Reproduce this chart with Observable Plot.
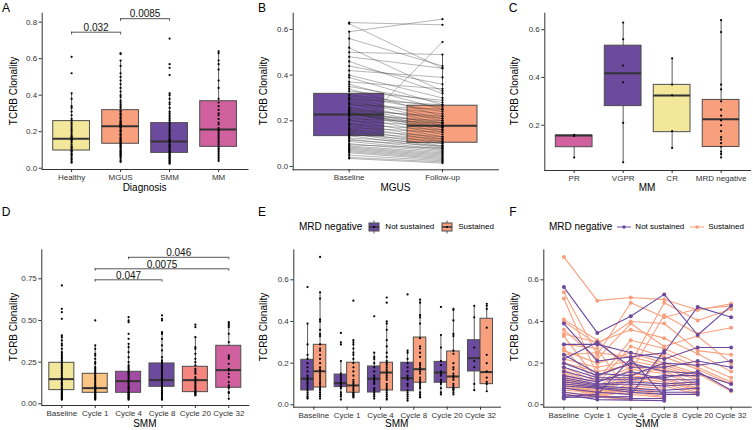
<!DOCTYPE html>
<html><head><meta charset="utf-8">
<script src="https://cdn.jsdelivr.net/npm/d3@7"></script>
<script src="https://cdn.jsdelivr.net/npm/@observablehq/plot@0.6"></script>
<style>
body{margin:0;background:#fff;font-family:"Liberation Sans",Arial,sans-serif;}
#root{position:relative;width:753px;height:430px;overflow:hidden;background:#fff;}
.panel{position:absolute;}
.t{position:absolute;white-space:nowrap;line-height:1;color:#000;}
.lg{position:absolute;display:flex;align-items:center;white-space:nowrap;font-size:8px;color:#000;line-height:1;}
.lg svg{display:block;}
</style>
</head><body><div id="root"></div>
<script>
// ---------------- DATA ----------------
const diagCats = ["Healthy","MGUS","SMM","MM"];
const healthyVals = [0.61,0.52,0.41,0.38,0.34,0.33,0.31,0.29,0.27,0.26,0.25,0.24,0.23,0.22,0.21,0.2,0.19,0.18,0.175,0.17,0.165,0.16,0.155,0.15,0.14,0.13,0.12,0.115,0.11,0.1,0.095,0.09,0.08,0.075,0.07,0.06,0.05,0.045,0.035,0.03];
const mgusVals = [0.63,0.625,0.59,0.56,0.52,0.50,0.48,0.46,0.44,0.42,0.40,0.39,0.37,0.36,0.35,0.34,0.33,
  0.315,0.31,0.30,0.295,0.29,0.28,0.275,0.27,0.26,0.255,0.25,0.245,0.24,0.24,0.235,0.23,0.23,
  0.225,0.22,0.21,0.205,0.20,0.19,0.185,0.18,0.17,0.165,0.16,0.155,0.15,0.145,0.14,0.135,
  0.13,0.125,0.12,0.115,0.11,0.10,0.095,0.09,0.085,0.08,0.075,0.07,0.065,0.06,0.05,0.04,0.035];
const smmVals = [0.71,0.57,0.55,0.51,0.41,0.40,0.38,0.36,0.35,0.33,0.31,0.30,0.29,0.28,0.27,0.26,0.25,0.24,0.23,0.22,0.21,0.20,0.19,0.18,0.17,0.16,0.155,0.15,0.145,0.14,0.13,0.125,0.12,0.115,0.11,0.10,0.095,0.09,0.085,0.08,0.075,0.07,0.065,0.06,0.055,0.05,0.045,0.04,0.035,0.03,0.025];
const mmVals = [0.64,0.63,0.59,0.57,0.54,0.48,0.44,0.38,0.36,0.34,0.32,0.30,0.29,0.27,0.25,0.24,0.22,0.21,0.20,0.19,0.18,0.17,0.16,0.15,0.14,0.13,0.12,0.11,0.10,0.09,0.08,0.07,0.06,0.05,0.04];
const diagQ1 = [0.097,0.134,0.084,0.117];
const diagMed = [0.161,0.230,0.146,0.212];
const diagQ3 = [0.258,0.318,0.247,0.367];
const diagLo = [0.03,0.035,0.025,0.04];
const diagHi = [0.41,0.59,0.41,0.64];
const diagColors = ["#F3E79B","#F8A07E","#6C4A9E","#D1609E"];
const diagSigPairs = [["Healthy","MGUS"],["MGUS","SMM"]];
const diagSigY = [0.745,0.819];
const diagSigP = ["0.032","0.0085"];

const mgusTimeCats = ["Baseline","Follow-up"];
const mgusFollowVals = [0.62,0.43,0.645,0.44,0.33,0.49,0.43,0.32,0.36,0.39,0.30,0.27,0.34,0.25,0.28,0.22,0.29,
  0.26,0.24,0.21,0.27,0.20,0.23,0.19,0.25,0.18,0.21,0.17,0.22,0.16,0.19,0.15,0.18,0.17,
  0.20,0.14,0.19,0.13,0.175,0.12,0.16,0.11,0.15,0.10,0.13,0.09,0.12,0.085,0.11,0.08,
  0.545,0.10,0.075,0.09,0.07,0.065,0.08,0.06,0.055,0.05,0.045,0.04,0.035,0.03,0.025,0.02,0.015];
const mgusQ1 = [0.133,0.104];
const mgusMed = [0.228,0.178];
const mgusQ3 = [0.318,0.266];
const mgusLo = [0.035,0.015];
const mgusHi = [0.59,0.49];
const mgusColors = ["#6C4A9E","#F8A07E"];

const respCats = ["PR","VGPR","CR","MRD negative"];
const prVals = [0.16,0.155,0.065];
const vgprVals = [0.63,0.56,0.45,0.38,0.21,0.045];
const crVals = [0.48,0.37,0.325,0.175,0.105];
const mrdVals = [0.64,0.59,0.37,0.35,0.30,0.265,0.24,0.22,0.20,0.175,0.15,0.14,0.125,0.11,0.09,0.08,0.065];
const respQ1 = [0.108,0.28,0.171,0.109];
const respMed = [0.157,0.418,0.324,0.225];
const respQ3 = [0.157,0.533,0.369,0.306];
const respLo = [0.065,0.045,0.105,0.065];
const respHi = [0.16,0.63,0.48,0.64];
const respColors = ["#D1609E","#6C4A9E","#F3E79B","#F8A07E"];

const smmCats = ["Baseline","Cycle 1","Cycle 4","Cycle 8","Cycle 20","Cycle 32"];
const cycle1Vals = [0.50,0.35,0.33,0.30,0.29,0.27,0.25,0.24,0.22,0.21,0.2,0.19,0.18,0.17,0.16,0.15,0.14,0.13,0.12,0.11,0.105,0.1,0.095,0.09,0.085,0.08,0.075,0.07,0.065,0.06,0.055,0.05,0.045,0.04,0.035,0.03,0.025];
const cycle4Vals = [0.52,0.50,0.49,0.42,0.39,0.36,0.34,0.31,0.28,0.25,0.23,0.22,0.21,0.2,0.19,0.185,0.18,0.17,0.16,0.15,0.14,0.13,0.12,0.11,0.1,0.095,0.09,0.08,0.07,0.065,0.06,0.055,0.05,0.045,0.04,0.035,0.03,0.025];
const cycle8Vals = [0.53,0.51,0.50,0.43,0.42,0.39,0.35,0.32,0.28,0.26,0.25,0.24,0.23,0.22,0.21,0.2,0.19,0.18,0.17,0.16,0.15,0.14,0.13,0.12,0.11,0.105,0.1,0.09,0.08,0.07,0.06,0.05,0.04,0.03,0.025];
const cycle20Vals = [0.475,0.46,0.40,0.34,0.33,0.30,0.27,0.25,0.23,0.21,0.2,0.19,0.18,0.16,0.15,0.14,0.13,0.12,0.11,0.1,0.09,0.08,0.075,0.07,0.065,0.06,0.055,0.05];
const cycle32Vals = [0.49,0.48,0.47,0.46,0.42,0.37,0.29,0.28,0.27,0.24,0.21,0.2,0.18,0.16,0.13,0.11,0.1,0.095,0.07,0.065,0.03];
const smmQ1 = [0.082,0.066,0.066,0.102,0.07,0.096];
const smmMed = [0.148,0.094,0.136,0.142,0.142,0.202];
const smmQ3 = [0.246,0.18,0.192,0.242,0.222,0.348];
const smmLo = [0.025,0.025,0.025,0.025,0.05,0.03];
const smmHi = [0.41,0.35,0.36,0.43,0.40,0.49];
const smmColors = ["#F3E79B","#FAC484","#A24BA2","#6C4A9E","#F4857F","#D1609E"];
const smmSigPairs = [["Cycle 1","Cycle 8"],["Cycle 1","Cycle 32"],["Cycle 4","Cycle 32"]];
const smmSigY = [0.744,0.81,0.879];
const smmSigP = ["0.047","0.0075","0.046"];

const mrdGroups = ["Not sustained","Sustained"];
const mrdColors = ["#6C4A9E","#F8A07E"];
// per patient: Baseline, Cycle 1, Cycle 4, Cycle 8, Cycle 20, Cycle 32 (null = no sample)
const notSustainedPatients = [
  [0.565,0.345,0.425,0.53,0.335,0.475],
  [0.39,0.21,0.23,0.25,0.47,0.42],
  [0.29,0.29,0.25,0.22,0.275,0.275],
  [0.24,0.15,0.14,0.20,0.19,0.21],
  [0.22,0.30,0.18,0.18,0.21,0.18],
  [0.20,0.14,0.20,0.16,0.15,0.10],
  [0.18,0.13,0.13,0.13,0.16,0.07],
  [0.16,0.12,0.12,0.14,0.14,null],
  [0.14,0.11,0.16,0.12,0.12,null],
  [0.13,0.10,0.11,0.10,0.11,null],
  [0.12,0.095,0.10,0.09,0.10,null],
  [0.11,0.09,0.08,0.07,0.08,null],
  [0.10,0.085,0.07,0.06,0.06,null],
  [0.09,0.08,0.06,0.05,0.05,null],
  [0.08,0.06,0.05,0.26,null,null],
  [0.04,0.05,0.22,0.04,null,null],
  [0.06,0.04,0.03,0.03,null,null],
  [0.05,0.025,null,0.02,null,null],
  [0.07,null,null,null,null,null],
  [0.035,null,0.04,null,null,null],
  [0.03,null,null,null,null,null]
];
const sustainedPatients = [
  [0.71,0.50,0.515,0.505,0.455,0.485],
  [0.54,0.24,0.49,0.42,0.46,0.475],
  [0.51,0.14,0.20,0.49,0.405,0.46],
  [0.41,0.31,0.16,0.43,0.34,0.37],
  [0.40,0.29,0.40,0.39,0.26,0.24],
  [0.36,0.22,0.39,0.28,0.33,0.20],
  [0.34,0.30,0.36,0.32,0.245,0.16],
  [0.33,0.12,0.31,0.27,0.20,0.13],
  [0.29,0.27,0.04,0.25,0.18,0.11],
  [0.27,0.10,0.28,0.23,0.17,0.10],
  [0.26,0.20,0.25,0.20,0.15,0.065],
  [0.24,0.25,0.23,0.19,0.14,null],
  [0.22,0.18,0.21,0.18,0.13,null],
  [0.20,0.16,0.19,0.17,0.12,null],
  [0.18,0.11,0.18,0.16,0.10,null],
  [0.17,0.09,0.17,0.15,0.09,null],
  [0.16,0.08,0.15,0.13,0.08,null],
  [0.15,0.07,0.14,0.12,0.075,null],
  [0.14,0.06,0.13,0.11,0.07,null],
  [0.13,0.055,0.12,0.10,0.06,null],
  [0.12,0.05,0.10,0.09,0.05,null],
  [0.11,0.045,0.09,0.08,null,null],
  [0.10,0.04,0.08,0.06,null,null],
  [0.09,0.035,0.07,0.05,null,null],
  [0.08,null,0.06,0.04,null,null],
  [0.07,null,0.05,0.035,null,null],
  [0.06,null,0.03,null,null,null],
  [0.05,null,0.025,null,null,null],
  [0.04,null,null,null,null,null],
  [0.03,null,null,null,null,null]
];
const nsQ1 = [0.069,0.085,0.059,0.065,0.106,0.16];
const nsMed = [0.125,0.104,0.125,0.128,0.155,0.224];
const nsQ3 = [0.216,0.145,0.184,0.202,0.206,0.31];
const nsLo = [0.03,0.025,0.03,0.02,0.05,0.07];
const nsHi = [0.39,0.21,0.25,0.26,0.335,0.475];
const sQ1 = [0.083,0.058,0.069,0.106,0.08,0.099];
const sMed = [0.161,0.093,0.155,0.171,0.136,0.157];
const sQ3 = [0.288,0.202,0.202,0.323,0.256,0.413];
const sLo = [0.03,0.035,0.025,0.035,0.05,0.065];
const sHi = [0.54,0.31,0.40,0.505,0.46,0.485];

// ---------------- HELPERS ----------------
const FONT = "Liberation Sans, Arial, sans-serif";
const root = document.getElementById("root");
const BOXW = 0.75;

function place(el, left, top) {
  el.classList.add("panel");
  el.style.left = left + "px";
  el.style.top = top + "px";
  root.appendChild(el);
}
function addText(str, x, y, size, opts = {}) {
  const d = document.createElement("div");
  d.className = "t";
  d.textContent = str;
  d.style.fontSize = size + "px";
  d.style.left = x + "px";
  d.style.top = y + "px";
  d.style.transform = opts.rotate ? `translate(-50%,-50%) rotate(${opts.rotate}deg)` : "translate(-50%,-50%)";
  root.appendChild(d);
}
function boxesFrom(cats, q1, med, q3, lo, hi, keys, offsets, width) {
  return cats.map((c, i) => ({x: i + (offsets ? offsets : 0), w: width, key: keys ? keys : c,
    q1: q1[i], med: med[i], q3: q3[i], lo: lo[i], hi: hi[i]}));
}
function pointsFrom(cats, lists, offset = 0) {
  return lists.flatMap((vals, i) => vals.map(v => ({x: i + offset, v})));
}
function bracketMarks(cats, pairs, ys, ps, tip) {
  const br = pairs.map((p, k) => ({a: cats.indexOf(p[0]), b: cats.indexOf(p[1]), y: ys[k], label: ps[k]}));
  const st = {stroke: "#444", strokeWidth: 0.9};
  return [
    Plot.ruleY(br, {x1: "a", x2: "b", y: "y", ...st}),
    Plot.ruleX(br, {x: "a", y1: d => d.y - tip, y2: "y", ...st}),
    Plot.ruleX(br, {x: "b", y1: d => d.y - tip, y2: "y", ...st}),
    Plot.text(br, {x: d => (d.a + d.b) / 2, y: "y", text: "label", dy: -1.2, lineAnchor: "bottom",
      fontSize: 10, fill: "#111", fontFamily: FONT})
  ];
}
function boxMarks(boxes) {
  return [
    Plot.ruleX(boxes, {x: "x", y1: "lo", y2: "hi", stroke: "#333", strokeWidth: 0.8}),
    Plot.rect(boxes, {x1: d => d.x - d.w / 2, x2: d => d.x + d.w / 2, y1: "q1", y2: "q3",
      fill: "key", stroke: "#4d4d4d", strokeWidth: 1}),
    Plot.ruleY(boxes, {x1: d => d.x - d.w / 2, x2: d => d.x + d.w / 2, y: "med", stroke: "#333", strokeWidth: 2})
  ];
}
function basePlot(cfg) {
  const n = cfg.cats.length;
  return Plot.plot({
    width: cfg.width, height: cfg.height,
    marginLeft: cfg.mL, marginRight: cfg.mR, marginTop: cfg.mT, marginBottom: cfg.mB,
    style: {fontFamily: FONT, fontSize: "8px", color: "#333", background: "transparent", overflow: "visible"},
    x: {domain: [-0.6, n - 0.4], ticks: d3.range(n), tickFormat: i => cfg.cats[i], tickSize: 3, tickPadding: 2, line: true, label: null},
    y: {domain: cfg.yDomain, ticks: cfg.yTicks, tickFormat: d3.format(cfg.yFmt), tickSize: 3, tickPadding: 2, line: true, label: null},
    color: {domain: cfg.colorDomain, range: cfg.colorRange},
    marks: cfg.marks
  });
}

// ---------------- PANEL A ----------------
{
  const boxes = boxesFrom(diagCats, diagQ1, diagMed, diagQ3, diagLo, diagHi, null, 0, BOXW);
  const pts = pointsFrom(diagCats, [healthyVals, mgusVals, smmVals, mmVals]);
  const p = basePlot({cats: diagCats, width: 250, height: 200, mL: 41.7, mR: 2.5, mT: 12.7, mB: 31,
    yDomain: [-0.007, 0.849], yTicks: [0, 0.2, 0.4, 0.6, 0.8], yFmt: ".1f",
    colorDomain: diagCats, colorRange: diagColors,
    marks: [...boxMarks(boxes),
      Plot.dot(pts, {x: "x", y: "v", r: 1.1, fill: "#000"}),
      ...bracketMarks(diagCats, diagSigPairs, diagSigY, diagSigP, 0.015)]});
  place(p, 0, 0);
}
// ---------------- PANEL B ----------------
{
  const boxes = boxesFrom(mgusTimeCats, mgusQ1, mgusMed, mgusQ3, mgusLo, mgusHi, null, 0, BOXW);
  const pairs = mgusVals.map((b, k) => ({b, f: mgusFollowVals[k]}));
  const pts = pointsFrom(mgusTimeCats, [mgusVals, mgusFollowVals]);
  const p = basePlot({cats: mgusTimeCats, width: 250, height: 200, mL: 42.7, mR: 2, mT: 12.7, mB: 30.7,
    yDomain: [-0.0144, 0.671], yTicks: [0, 0.2, 0.4, 0.6], yFmt: ".1f",
    colorDomain: mgusTimeCats, colorRange: mgusColors,
    marks: [...boxMarks(boxes),
      Plot.link(pairs, {x1: () => 0, x2: () => 1, y1: "b", y2: "f", stroke: "#333", strokeWidth: 0.6, strokeOpacity: 0.6}),
      Plot.dot(pts, {x: "x", y: "v", r: 1.1, fill: "#000"})]});
  place(p, 250, 0);
}
// ---------------- PANEL C ----------------
{
  const boxes = boxesFrom(respCats, respQ1, respMed, respQ3, respLo, respHi, null, 0, BOXW);
  const pts = pointsFrom(respCats, [prVals, vgprVals, crVals, mrdVals]);
  const p = basePlot({cats: respCats, width: 253, height: 200, mL: 44.3, mR: 3, mT: 12.7, mB: 30,
    yDomain: [0.0105, 0.669], yTicks: [0.2, 0.4, 0.6], yFmt: ".1f",
    colorDomain: respCats, colorRange: respColors,
    marks: [...boxMarks(boxes),
      Plot.dot(pts, {x: "x", y: "v", r: 1.1, fill: "#000"})]});
  place(p, 500, 0);
}
// ---------------- PANEL D ----------------
{
  const boxes = boxesFrom(smmCats, smmQ1, smmMed, smmQ3, smmLo, smmHi, null, 0, BOXW);
  const pts = pointsFrom(smmCats, [smmVals, cycle1Vals, cycle4Vals, cycle8Vals, cycle20Vals, cycle32Vals]);
  const p = basePlot({cats: smmCats, width: 250, height: 230, mL: 41.3, mR: 1.7, mT: 49.3, mB: 25,
    yDomain: [-0.0102, 0.924], yTicks: [0, 0.25, 0.5, 0.75], yFmt: ".2f",
    colorDomain: smmCats, colorRange: smmColors,
    marks: [...boxMarks(boxes),
      Plot.dot(pts, {x: "x", y: "v", r: 1.1, fill: "#000"}),
      ...bracketMarks(smmCats, smmSigPairs, smmSigY, smmSigP, 0.014)]});
  place(p, 0, 200);
}
// ---------------- PANEL E ----------------
function patientPoints(patients, grp, offset, pidBase) {
  return patients.flatMap((row, k) => row.map((v, i) => v == null ? null : {x: i + offset, i, v, grp, pid: pidBase + k}).filter(d => d));
}
{
  const dw = BOXW / 2;
  const boxes = [
    ...boxesFrom(smmCats, nsQ1, nsMed, nsQ3, nsLo, nsHi, mrdGroups[0], -dw / 2, dw),
    ...boxesFrom(smmCats, sQ1, sMed, sQ3, sLo, sHi, mrdGroups[1], dw / 2, dw)
  ];
  const pts = [...patientPoints(notSustainedPatients, mrdGroups[0], -dw / 2, 0),
               ...patientPoints(sustainedPatients, mrdGroups[1], dw / 2, 100)];
  const p = basePlot({cats: smmCats, width: 250, height: 230, mL: 43.3, mR: 0, mT: 49.3, mB: 23.3,
    yDomain: [-0.0115, 0.744], yTicks: [0, 0.2, 0.4, 0.6], yFmt: ".1f",
    colorDomain: mrdGroups, colorRange: mrdColors,
    marks: [...boxMarks(boxes),
      Plot.dot(pts, {x: "x", y: "v", r: 1.1, fill: "#000"})]});
  place(p, 250, 200);
}
// ---------------- PANEL F ----------------
{
  const ptsS = patientPoints(sustainedPatients, mrdGroups[1], 0, 100);
  const ptsN = patientPoints(notSustainedPatients, mrdGroups[0], 0, 0);
  const p = basePlot({cats: smmCats, width: 253, height: 230, mL: 43.3, mR: 2.3, mT: 49.3, mB: 23.3,
    yDomain: [-0.0115, 0.744], yTicks: [0, 0.2, 0.4, 0.6], yFmt: ".1f",
    colorDomain: mrdGroups, colorRange: mrdColors,
    marks: [
      Plot.line(ptsS, {x: "x", y: "v", z: "pid", stroke: "grp", strokeWidth: 1.1}),
      Plot.dot(ptsS, {x: "x", y: "v", fill: "grp", r: 2}),
      Plot.line(ptsN, {x: "x", y: "v", z: "pid", stroke: "grp", strokeWidth: 1.1}),
      Plot.dot(ptsN, {x: "x", y: "v", fill: "grp", r: 2})
    ]});
  place(p, 500, 200);
}

// ---------------- TEXT: panel tags, axis titles ----------------
[["A",6,8],["B",262,8],["C",513,8],["D",6,212],["E",262,212],["F",513,212]]
  .forEach(([s,x,y]) => addText(s, x, y, 12));
addText("Diagnosis", 144.6, 188, 10);
addText("MGUS", 395.4, 188, 10);
addText("MM", 647, 188, 10);
addText("SMM", 144.8, 423.5, 10);
addText("SMM", 396.7, 424, 10);
addText("SMM", 647, 424, 10);
[[14,91],[264,91],[515,91],[14,327],[264,327],[515,327]].forEach(([x,y]) =>
  addText("TCRB Clonality", x, y, 10, {rotate: -90}));

// ---------------- LEGENDS ----------------
function legend(x, y, keyFn) {
  const div = document.createElement("div");
  div.className = "lg";
  div.style.left = x + "px";
  div.style.top = (y - 7) + "px";
  div.style.height = "14px";
  const title = document.createElement("span");
  title.textContent = "MRD negative";
  title.style.fontSize = "10px";
  title.style.marginRight = "5px";
  div.appendChild(title);
  mrdGroups.forEach((g, k) => {
    const ns = "http://www.w3.org/2000/svg";
    const svg = document.createElementNS(ns, "svg");
    svg.setAttribute("width", 14); svg.setAttribute("height", 14);
    svg.innerHTML = keyFn(mrdColors[k]);
    svg.style.marginRight = "4px";
    div.appendChild(svg);
    const t = document.createElement("span");
    t.textContent = g;
    t.style.marginRight = k === 0 ? "6px" : "0";
    div.appendChild(t);
  });
  root.appendChild(div);
}
legend(299, 227, c => `<line x1="7" y1="0.5" x2="7" y2="13.5" stroke="#333" stroke-width="0.8"/>
  <rect x="2" y="3" width="10" height="8" fill="${c}" stroke="#4d4d4d" stroke-width="1"/>
  <line x1="2" y1="7" x2="12" y2="7" stroke="#333" stroke-width="1.5"/>
  <circle cx="7" cy="7" r="1.1" fill="#000"/>`);
legend(549, 227, c => `<line x1="0" y1="7" x2="14" y2="7" stroke="${c}" stroke-width="1"/>
  <circle cx="7" cy="7" r="1.8" fill="${c}"/>`);
</script></body></html>
